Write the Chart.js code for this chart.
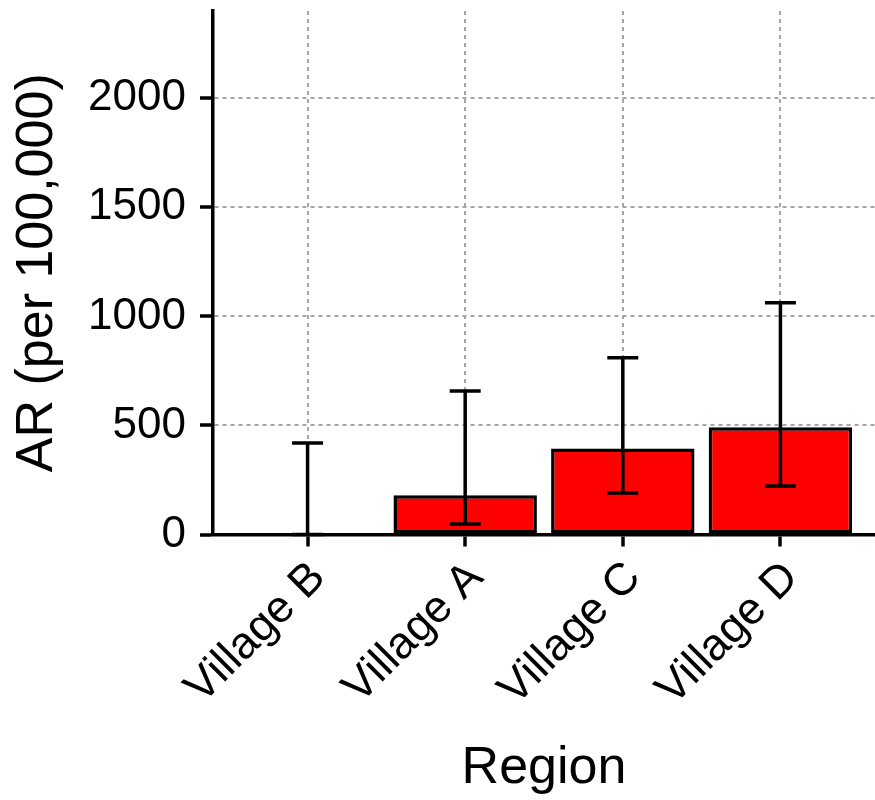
<!DOCTYPE html>
<html>
<head>
<meta charset="utf-8">
<script src="https://cdn.jsdelivr.net/npm/chart.js@4"></script>
<style>
  html, body { margin: 0; padding: 0; background: #ffffff; }
  #wrap { width: 875px; height: 800px; position: relative; }
</style>
</head>
<body>
<div id="wrap"><canvas id="c" width="875" height="800"></canvas></div>
<script>
const categories = ['Village B', 'Village A', 'Village C', 'Village D'];
const arValues = [0, 180, 394, 492];
const ciLower = [0, 48, 190, 222];
const ciUpper = [419, 658, 810, 1063];
const yTicks = [0, 500, 1000, 1500, 2000];

const FONT = "'Liberation Sans', Arial, Helvetica, sans-serif";

const errorBars = {
  id: 'errorBars',
  afterDatasetsDraw(chart) {
    const ctx = chart.ctx;
    const xs = chart.scales.x, ys = chart.scales.y;
    ctx.save();
    ctx.strokeStyle = '#000';
    ctx.lineWidth = 3.5;
    ctx.lineCap = 'butt';
    categories.forEach((c, i) => {
      const x = xs.getPixelForValue(i + 1);
      const yl = ys.getPixelForValue(ciLower[i]);
      const yh = ys.getPixelForValue(ciUpper[i]);
      const hw = 15.5;
      ctx.beginPath();
      ctx.moveTo(x, yl); ctx.lineTo(x, yh);
      ctx.moveTo(x - hw, yh); ctx.lineTo(x + hw, yh);
      ctx.moveTo(x - hw, yl); ctx.lineTo(x + hw, yl);
      ctx.stroke();
    });
    ctx.restore();
  }
};

const shiftLabels = {
  id: 'shiftLabels',
  beforeDraw(chart) {
    const xs = chart.scales.x;
    const items = xs.getLabelItems(chart.chartArea);
    items.forEach(it => {
      if (!it._shifted) {
        it.options.translation[0] += 11;
        it.options.translation[1] -= 3;
        it._shifted = true;
      }
    });
  }
};

new Chart(document.getElementById('c'), {
  type: 'bar',
  data: {
    datasets: [{
      data: categories.map((c, i) => ({ x: i + 1, y: arValues[i] })),
      backgroundColor: '#ff0000',
      borderColor: '#000000',
      borderWidth: 3.5,
      borderSkipped: false,
      barPercentage: 0.91,
      categoryPercentage: 1.0
    }]
  },
  options: {
    responsive: false,
    devicePixelRatio: 1,
    animation: false,
    layout: { padding: { top: 11, right: 0, left: 0, bottom: 0 } },
    plugins: { legend: { display: false }, tooltip: { enabled: false } },
    scales: {
      x: {
        type: 'linear',
        offset: false,
        min: 0.4,
        max: 4.6,
        afterBuildTicks(scale) { scale.ticks = categories.map((c, i) => ({ value: i + 1 })); },
        afterFit(scale) {
          scale.height = 265.5;
          scale.paddingLeft = 0; scale.paddingRight = 0;
        },
        ticks: {
          autoSkip: false,
          minRotation: 45,
          maxRotation: 45,
          padding: 8,
          color: '#000',
          font: { family: FONT, size: 45 },
          callback: (v) => categories[Math.round(v) - 1]
        },
        grid: {
          display: true,
          offset: false,
          color: '#a6a6a6',
          lineWidth: 2,
          drawTicks: true,
          tickLength: 12,
          tickColor: '#000',
          tickWidth: 3.5
        },
        border: { display: true, color: '#000', width: 3.5, dash: [4, 4] },
        title: {
          display: true,
          text: 'Region',
          color: '#000',
          font: { family: FONT, size: 52, lineHeight: 1.2 },
          padding: { top: 0, bottom: 0 }
        }
      },
      y: {
        min: 0,
        max: 2400,
        afterBuildTicks(scale) { scale.ticks = yTicks.map(v => ({ value: v })); },
        afterFit(scale) {
          scale.width = 213;
          scale.paddingTop = 0; scale.paddingBottom = 0;
        },
        ticks: {
          padding: 14,
          color: '#000',
          font: { family: FONT, size: 44 },
          callback: (v) => String(v)
        },
        grid: {
          display: true,
          color: '#a6a6a6',
          lineWidth: 2,
          drawTicks: true,
          tickLength: 13,
          tickColor: '#000',
          tickWidth: 3.5
        },
        border: { display: true, color: '#000', width: 3.5, dash: [4, 4] },
        title: {
          display: true,
          text: 'AR (per 100,000)',
          color: '#000',
          font: { family: FONT, size: 52, lineHeight: 1.2 },
          padding: { top: 6, bottom: 0 }
        }
      }
    }
  },
  plugins: [errorBars, shiftLabels]
});
</script>
</body>
</html>
